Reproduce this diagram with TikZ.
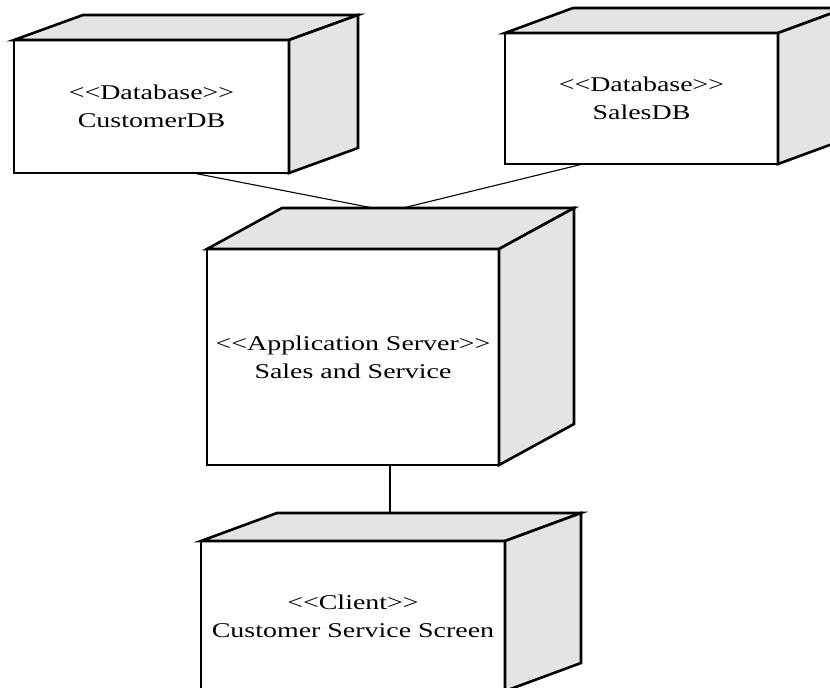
\documentclass[tikz,border=0pt]{standalone}
\usepackage{fontspec}
\setmainfont{Liberation Serif}[FakeStretch=1.33, Ligatures=TeXOff]
\definecolor{sidegray}{RGB}{228,228,228}
\tikzset{
  front/.style={draw, fill=white, line width=2.6pt, rectangle, inner sep=0pt,
    outer sep=0pt, align=center, font=\fontsize{21}{28}\selectfont},
  face/.style={draw, fill=sidegray, line width=2.6pt, line join=miter},
  link/.style={draw, line width=1.1pt}
}
% draw the top and right faces of a 3D node; #1 name, #2 depth offset
\newcommand{\cubeparts}[2]{%
  \coordinate (#1-bl) at ([shift={#2}]#1.north west);
  \coordinate (#1-br) at ([shift={#2}]#1.north east);
  \coordinate (#1-bb) at ([shift={#2}]#1.south east);
  \path[face] (#1.north west) -- (#1-bl) -- (#1-br) -- (#1.north east) -- cycle;
  \path[face] (#1.north east) -- (#1-br) -- (#1-bb) -- (#1.south east) -- cycle;
}
\begin{document}
\begin{tikzpicture}[x=1pt,y=-1pt]
  \useasboundingbox (0,0) rectangle (830,688);
  \begin{scope}
    \clip (0,0) rectangle (830,688);
    % nodes
    \node[front, minimum width=275pt, minimum height=133pt] (cdb) at (151.5,106.5)
      {<<Database>>\\CustomerDB};
    \node[front, minimum width=273pt, minimum height=131pt] (sdb) at (641.5,98.5)
      {<<Database>>\\SalesDB};
    \node[front, minimum width=292pt, minimum height=216pt] (app) at (353,357)
      {<<Application Server>>\\Sales and Service};
    \node[front, minimum width=304pt, minimum height=150pt] (cli) at (353,616)
      {<<Client>>\\Customer Service Screen};
    \cubeparts{cdb}{(69,-25)}
    \cubeparts{sdb}{(68,-25)}
    \cubeparts{app}{(75,-41)}
    \cubeparts{cli}{(76,-28)}
    % connectors
    \path[link] ([xshift=41.5pt]cdb.south) -- ([xshift=91pt]app-bl);
    \path[link] ([xshift=-58.5pt]sdb.south) -- ([xshift=121pt]app-bl);
    \path[link] ([xshift=37pt]app.south) -- ([xshift=113pt]cli-bl);
  \end{scope}
\end{tikzpicture}
\end{document}
